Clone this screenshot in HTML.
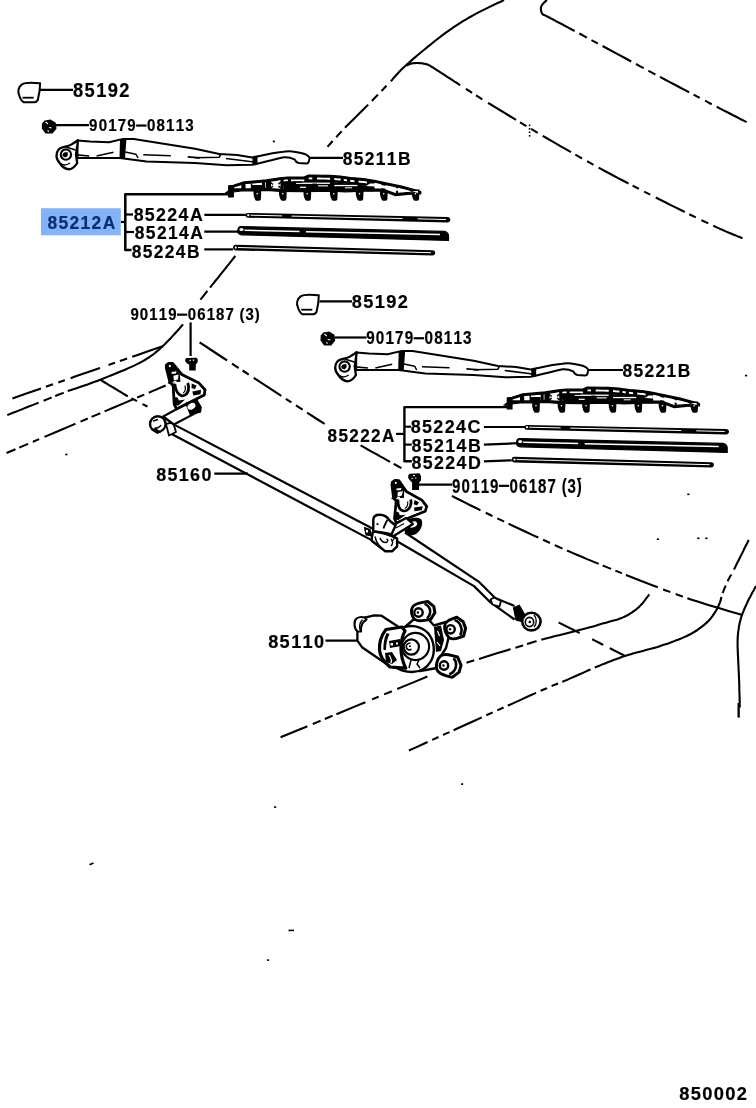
<!DOCTYPE html>
<html><head><meta charset="utf-8"><style>
html,body{margin:0;padding:0;background:#fff;}
svg{display:block;will-change:transform;}
text{font-family:"Liberation Sans",sans-serif;font-weight:bold;}
</style></head><body>
<svg width="756" height="1108" viewBox="0 0 756 1108">
<defs><clipPath id="bclip"><polygon points="228.6,185.9 233.3,185.3 244,181.9 266.3,179.9 279.8,177.9 287.5,177 304,177 308.5,175 329.6,175.4 340.2,176.1 350.8,177.5 363.5,178.6 374,180.3 401.7,186.2 413.4,189.4 420.8,191.5 420.8,193.8 410.2,194.2 395.4,195.6 385.9,192 380,191 363.5,191.2 345.5,191.8 331.7,191.2 304,191.6 281.1,191.4 266.3,190.4 254.4,190.8 241.7,190.8 233.3,192 233.3,197 228.6,197"/></clipPath><g id="set"><path d="M22,84.3 C25,82.5 30,82.2 40.1,83.3 L39.6,90.7 L37.8,100 C37,101.5 35.5,102.3 34.1,102.3 L23.9,102.3 C21.5,101 20,98 19.3,95.4 C17.5,92 18,87 22,84.3 Z" stroke="#000" stroke-width="2" fill="#fff"/><line x1="22.5" y1="97.7" x2="33.6" y2="97.7" stroke="#000" stroke-width="1.8"/><path d="M44.5,120.5 L50.5,119.6 L55.8,122.8 L56.5,128.8 L52.5,133.6 L45.5,133.4 L41.8,128.5 L42,123.5 Z" fill="#000"/><path d="M45.6,121.8 L48,124 M49,127.5 L51.7,128 M47.5,130.4 L48.9,131.5" stroke="#fff" stroke-width="1.1"/><path d="M77.5,140.6 L90,141.6 L109,142.2 L123.2,138.9 L133.8,138.9 L195,148.8 L219.3,154 L237.3,155.1 L252.1,157.4 C262,155.5 272,153.2 281.7,152.1 C285,151.3 289,151.2 292.3,151.4 C297,152 303,153 306.1,154.6 C309,156 310,158 309.3,159.3 C309,162 307.5,163.6 306.1,163.6 L298.7,163 C296,162.5 295,160.5 294.4,159.3 C291,157.5 287,157 283.9,157.2 C272,159.8 262,162.6 252.1,164.8 L226.7,165.2 L195,163 L146.5,161.6 L120,157.9 L77.5,158 Z" stroke="#000" stroke-width="2" fill="#fff" /><path d="M56.5,156 C56.5,151 59.5,148 63.2,147.2 C67,146.3 70.9,145.4 73,143.5 L78,140.3 L76,154.5 L77.2,163 C75.5,166 72,169 69,169.3 C65,169 62,166.5 60,163.5 C57.8,161 56.5,159 56.5,156 Z" stroke="#000" stroke-width="2.3" fill="#fff" /><circle cx="65.9" cy="154.6" r="5.2" stroke="#000" stroke-width="2.1" fill="none"/><path d="M64,152.5 L67.5,152 L68,155 L66,157.5 L63,156.5 L62.5,154.5 Z" fill="#000"/><path d="M66,147 L75.5,150" stroke="#000" stroke-width="1.6" fill="none" /><path d="M60,163 C63,166 67,165 70,163" stroke="#000" stroke-width="1.4" fill="none" /><path d="M120,139.2 L126.5,138.6 L125,158.6 L119.5,158.2 Z" fill="#000"/><path d="M76.5,154.9 L89.2,156" stroke="#000" stroke-width="1.6" fill="none" /><path d="M96.6,156 L113.5,152.2" stroke="#000" stroke-width="1.6" fill="none" /><path d="M125.3,152.1 L135.9,154.2 L138,158" stroke="#000" stroke-width="1.5" fill="none" /><path d="M143.3,154.8 L170.8,155.8" stroke="#000" stroke-width="1.6" fill="none" /><path d="M187.7,156.9 L200,157.9" stroke="#000" stroke-width="1.6" fill="none" /><path d="M195,157.8 L219.3,157.2 L221,153.5" stroke="#000" stroke-width="1.6" fill="none" /><path d="M226,158.5 L254,162" stroke="#000" stroke-width="1.6" fill="none" /><path d="M252.5,157 L257.5,156.2 L257.5,164 L252.5,164.6 Z" fill="#000"/><polygon points="228.6,185.9 233.3,185.3 244,181.9 266.3,179.9 279.8,177.9 287.5,177 304,177 308.5,175 329.6,175.4 340.2,176.1 350.8,177.5 363.5,178.6 374,180.3 401.7,186.2 413.4,189.4 420.8,191.5 420.8,193.8 410.2,194.2 395.4,195.6 385.9,192 380,191 363.5,191.2 345.5,191.8 331.7,191.2 304,191.6 281.1,191.4 266.3,190.4 254.4,190.8 241.7,190.8 233.3,192 233.3,197 228.6,197" fill="#000" stroke="#000" stroke-width="1.2" stroke-linejoin="round"/><path d="M228.6,190 L224,193.5 L233,194.5 Z" fill="#000"/><path d="M253.5,189.5 L261.3,189.5 L260.9,199 C260.5,200.5 259.5,200.8 258.0,200.8 L256.5,200.8 C255.0,200.5 254.0,197 253.5,194 Z" fill="#000"/><rect x="256.6" y="193" width="1.3" height="1.4" fill="#fff"/><path d="M279,189.5 L286.8,189.5 L286.4,199 C286,200.5 285,200.8 283.5,200.8 L282,200.8 C280.5,200.5 279.5,197 279,194 Z" fill="#000"/><rect x="282.1" y="193" width="1.3" height="1.4" fill="#fff"/><path d="M303.5,189.5 L311.3,189.5 L310.9,199 C310.5,200.5 309.5,200.8 308.0,200.8 L306.5,200.8 C305.0,200.5 304.0,197 303.5,194 Z" fill="#000"/><rect x="306.6" y="193" width="1.3" height="1.4" fill="#fff"/><path d="M330,189.5 L337.8,189.5 L337.4,199 C337,200.5 336,200.8 334.5,200.8 L333,200.8 C331.5,200.5 330.5,197 330,194 Z" fill="#000"/><rect x="333.1" y="193" width="1.3" height="1.4" fill="#fff"/><path d="M355.8,189.5 L363.6,189.5 L363.2,199 C362.8,200.5 361.8,200.8 360.3,200.8 L358.8,200.8 C357.3,200.5 356.3,197 355.8,194 Z" fill="#000"/><rect x="358.90000000000003" y="193" width="1.3" height="1.4" fill="#fff"/><path d="M380,189.5 L387.8,189.5 L387.4,199 C387,200.5 386,200.8 384.5,200.8 L383,200.8 C381.5,200.5 380.5,197 380,194 Z" fill="#000"/><rect x="383.1" y="193" width="1.3" height="1.4" fill="#fff"/><path d="M411.7,189.5 L419.5,189.5 L419.09999999999997,199 C418.7,200.5 417.7,200.8 416.2,200.8 L414.7,200.8 C413.2,200.5 412.2,197 411.7,194 Z" fill="#000"/><rect x="414.8" y="193" width="1.3" height="1.4" fill="#fff"/><polygon points="234.0,187.5 236.0,186.8 238.0,186.2 240.0,185.6 242.0,184.9 244.0,184.3 246.0,184.1 248.0,183.9 250.0,183.8 252.0,183.6 254.0,183.4 256.0,183.2 258.0,183.0 260.0,182.9 262.0,182.7 264.0,182.5 266.0,182.3 268.0,182.0 270.0,181.8 272.0,181.5 274.0,181.2 276.0,180.9 278.0,180.6 280.0,180.3 282.0,180.0 284.0,179.8 286.0,179.6 288.0,179.4 290.0,179.4 292.0,179.4 294.0,179.4 296.0,179.4 298.0,179.4 300.0,179.4 302.0,179.4 304.0,179.4 306.0,178.5 308.0,177.6 310.0,177.4 312.0,177.5 314.0,177.5 316.0,177.5 318.0,177.6 320.0,177.6 322.0,177.7 324.0,177.7 326.0,177.7 328.0,177.8 330.0,177.8 332.0,178.0 334.0,178.1 336.0,178.2 338.0,178.4 340.0,178.5 342.0,178.7 344.0,179.0 346.0,179.3 348.0,179.5 350.0,179.8 352.0,180.0 354.0,180.2 356.0,180.4 358.0,180.5 360.0,180.7 362.0,180.9 364.0,181.1 366.0,181.4 368.0,181.7 370.0,182.1 372.0,182.4 374.0,182.7 376.0,183.1 378.0,183.6 380.0,184.0 382.0,184.4 384.0,184.8 386.0,185.3 388.0,185.7 390.0,186.1 392.0,186.5 394.0,187.0 396.0,187.4 398.0,187.8 400.0,188.2 402.0,188.7 404.0,189.2 406.0,189.8 408.0,190.3 410.0,190.9 412.0,191.4 414.0,192.0 416.0,192.5 418.0,193.1 418.0,190.9 416.0,191.1 414.0,191.2 412.0,191.4 410.0,191.6 408.0,191.8 406.0,192.0 404.0,192.2 402.0,192.4 400.0,192.6 398.0,192.8 396.0,192.9 394.0,192.5 392.0,191.7 390.0,191.0 388.0,190.2 386.0,189.4 384.0,189.1 382.0,188.7 380.0,188.4 378.0,188.4 376.0,188.4 374.0,188.5 372.0,188.5 370.0,188.5 368.0,188.5 366.0,188.6 364.0,188.6 362.0,188.7 360.0,188.7 358.0,188.8 356.0,188.8 354.0,188.9 352.0,189.0 350.0,189.1 348.0,189.1 346.0,189.2 344.0,189.1 342.0,189.0 340.0,189.0 338.0,188.9 336.0,188.8 334.0,188.7 332.0,188.6 330.0,188.6 328.0,188.7 326.0,188.7 324.0,188.7 322.0,188.7 320.0,188.8 318.0,188.8 316.0,188.8 314.0,188.9 312.0,188.9 310.0,188.9 308.0,188.9 306.0,189.0 304.0,189.0 302.0,189.0 300.0,189.0 298.0,188.9 296.0,188.9 294.0,188.9 292.0,188.9 290.0,188.9 288.0,188.9 286.0,188.8 284.0,188.8 282.0,188.8 280.0,188.7 278.0,188.6 276.0,188.5 274.0,188.3 272.0,188.2 270.0,188.1 268.0,187.9 266.0,187.8 264.0,187.9 262.0,187.9 260.0,188.0 258.0,188.1 256.0,188.1 254.0,188.2 252.0,188.2 250.0,188.2 248.0,188.2 246.0,188.2 244.0,188.2 242.0,188.2 240.0,188.2 238.0,188.2 236.0,188.2 234.0,188.2" fill="#fff"/><path d="M283.0,183.1 L286.0,182.8 L289.0,182.6 L292.0,182.6 L295.0,182.6 L298.0,182.6 L301.0,182.6 L304.0,182.6 L307.0,181.3 L310.0,180.6 L313.0,180.7 L316.0,180.7 L319.0,180.8 L322.0,180.9 L325.0,180.9 L328.0,181.0 L331.0,181.1 L334.0,181.3 L337.0,181.5 L340.0,181.7 L343.0,182.1 L346.0,182.5 L349.0,182.9 L352.0,183.2 L355.0,183.5 L358.0,183.7 L361.0,184.0 L364.0,184.3 L367.0,184.8 L370.0,185.3" stroke="#000" stroke-width="2.6" fill="none"/><rect x="241.3" y="170" width="4.199999999999989" height="25" fill="#000" clip-path="url(#bclip)"/><rect x="250.8" y="170" width="1.3999999999999773" height="25" fill="#000" clip-path="url(#bclip)"/><rect x="262" y="170" width="3" height="25" fill="#000" clip-path="url(#bclip)"/><rect x="265.7" y="170" width="5.300000000000011" height="25" fill="#000" clip-path="url(#bclip)"/><rect x="280.5" y="170" width="3.1000000000000227" height="25" fill="#000" clip-path="url(#bclip)"/><rect x="287.9" y="170" width="3.1000000000000227" height="25" fill="#000" clip-path="url(#bclip)"/><rect x="304.3" y="170" width="4.5" height="25" fill="#000" clip-path="url(#bclip)"/><rect x="312.3" y="170" width="4.699999999999989" height="25" fill="#000" clip-path="url(#bclip)"/><rect x="330.1" y="170" width="4.199999999999989" height="25" fill="#000" clip-path="url(#bclip)"/><rect x="340.7" y="170" width="3.1000000000000227" height="25" fill="#000" clip-path="url(#bclip)"/><rect x="347" y="170" width="3.1999999999999886" height="25" fill="#000" clip-path="url(#bclip)"/><rect x="354.4" y="170" width="4.100000000000023" height="25" fill="#000" clip-path="url(#bclip)"/><rect x="367" y="170" width="7.5" height="25" fill="#000" clip-path="url(#bclip)"/><rect x="381.5" y="170" width="4.0" height="25" fill="#000" clip-path="url(#bclip)"/><rect x="396" y="170" width="2" height="25" fill="#000" clip-path="url(#bclip)"/><rect x="410" y="170" width="2" height="25" fill="#000" clip-path="url(#bclip)"/><polygon points="283.0,184.0 286.0,183.7 289.0,183.5 292.0,183.5 295.0,183.5 298.0,183.5 301.0,183.5 304.0,183.5 307.0,182.2 310.0,181.5 313.0,181.6 316.0,181.6 319.0,181.7 322.0,181.8 325.0,181.8 328.0,181.9 331.0,182.0 334.0,182.2 337.0,182.4 340.0,182.6 343.0,183.0 346.0,183.4 349.0,183.8 352.0,184.1 355.0,184.4 358.0,184.6 361.0,184.9 364.0,185.2 367.0,185.7 370.0,186.2 373.0,186.6 374.0,190.1 371.0,190.1 368.0,190.1 365.0,190.2 362.0,190.2 359.0,190.3 356.0,190.4 353.0,190.6 350.0,190.7 347.0,190.8 344.0,190.7 341.0,190.6 338.0,190.5 335.0,190.3 332.0,190.2 329.0,190.2 326.0,190.3 323.0,190.3 320.0,190.4 317.0,190.4 314.0,190.5 311.0,190.5 308.0,190.5 305.0,190.6 302.0,190.6 299.0,190.6 296.0,190.5 293.0,190.5 290.0,190.5 287.0,190.5 284.0,190.4" fill="#000"/><rect x="296" y="182.6" width="34" height="1.3" fill="#fff"/><rect x="334.3" y="184.9" width="23.19999999999999" height="1.3" fill="#fff"/><rect x="300" y="186.7" width="6" height="1.2" fill="#fff"/><rect x="318" y="185.3" width="10" height="1.1" fill="#fff"/><rect x="345" y="187.3" width="7" height="1.0" fill="#fff"/><rect x="252" y="185.0" width="10" height="4" fill="#000"/><rect x="282" y="181.4" width="9" height="4" fill="#000"/><rect x="312.3" y="183.6" width="4.5" height="3" fill="#000"/><rect x="293" y="181.6" width="9" height="1.2" fill="#000"/><path d="M270.5,182.5 L273,184.5 M281,182 L278.5,184.2 M270.8,188 L273,186 M280.8,188 L278.5,186" stroke="#000" stroke-width="1.6"/><polygon points="374.2,183.4 401.7,189.2 413.4,192.2 401.7,191.4 374.2,186.8" fill="#fff"/><polygon points="370,183.6 374.2,183.4 374.2,186.4 366,186" fill="#fff"/><path d="M248,212.9 L447.5,217.1 C449.5,217.2 450.3,218.6 450.3,219.8 C450.3,221.2 449.3,222.4 447.5,222.4 L248,217.7 C246.2,217.6 245.5,216.4 245.5,215.3 C245.5,214 246.3,212.9 248,212.9 Z" fill="#000"/><path d="M250.5,215.2 L282,215.9 M291.5,216.1 L402.5,218.5 M417.5,218.8 L446,219.5" stroke="#fff" stroke-width="1.0" fill="none" /><circle cx="248.3" cy="215.2" r="1.1" fill="#fff"/><path d="M241,226.6 L444,231.4 C447,231.5 448.5,234 448.5,236 L448.5,240.4 L242,234.8 C239,234.6 237.5,233 237.8,230.5 C238,228 239,226.6 241,226.6 Z" fill="#000" stroke="#000" stroke-width="1.2"/><path d="M244.5,230.2 L299.5,231.5 M306,231.8 L440,234.6" stroke="#fff" stroke-width="1.5" fill="none" /><ellipse cx="241.5" cy="229.6" rx="2" ry="1.5" fill="#fff"/><path d="M235.5,244.8 L432.5,250.2 C434.3,250.3 435.2,251.5 435.2,252.7 C435.2,254.2 434.2,255.4 432.5,255.4 L235.5,250.4 C233.7,250.3 233,249 233,247.6 C233,246 234,244.8 235.5,244.8 Z" fill="#000"/><path d="M238,247.5 L431,252.7" stroke="#fff" stroke-width="1.0" fill="none" /><circle cx="235.8" cy="247.6" r="1.1" fill="#fff"/></g></defs>
<rect width="756" height="1108" fill="#fff"/>
<g stroke-linecap="butt" stroke-linejoin="round">
<path d="M504.0,0.0 L502.5,0.7 L500.6,1.7 L498.3,2.7 L495.8,3.9 L493.0,5.2 L490.1,6.6 L487.1,8.1 L484.1,9.6 L481.0,11.1 L478.1,12.6 L475.2,14.1 L472.6,15.6 L470.1,17.0 L467.7,18.4 L465.3,19.8 L463.0,21.2 L460.7,22.6 L458.4,24.1 L456.1,25.6 L453.7,27.2 L451.3,28.8 L448.8,30.6 L446.2,32.4 L443.5,34.4 L440.6,36.6 L437.5,39.0 L434.3,41.5 L431.0,44.2 L427.6,46.9 L424.2,49.7 L420.8,52.5 L417.5,55.3 L414.4,57.9 L411.5,60.4 L408.9,62.7 L406.5,64.8 L404.4,66.7 L402.5,68.5 L400.7,70.3 L399.1,71.9 L397.7,73.5 L396.3,75.0 L395.2,76.3 L394.1,77.5 L393.1,78.7 L392.3,79.7 L391.5,80.5 L390.8,81.3" stroke="#000" stroke-width="2.1" fill="none" stroke-linejoin="round"/>
<path d="M386.5,85.7 L385.0,87.3 L383.0,89.4 L381.5,90.9 M377.9,94.6 L376.6,96.0 L374.4,98.2 L372.3,100.5 L371.8,100.9 M368.2,104.6 L366.3,106.6 L364.3,108.5 L362.3,110.5 L360.3,112.5 L358.3,114.5 L356.3,116.5 L354.3,118.4 L352.3,120.4 L350.4,122.3 L348.5,124.2 L346.7,126.0 L345.0,127.8 M341.7,131.3 L341.6,131.4 L339.8,133.3 L338.1,135.1 L336.4,137.0 L336.2,137.2 M332.7,141.1 L331.8,142.0 L330.5,143.5 L329.3,144.8 L328.3,145.9 L327.5,146.8" stroke="#000" stroke-width="2.1" fill="none" stroke-linecap="butt"/>
<path d="M235.3,256.0 L232.4,259.6 L229.5,263.3 L226.6,266.9 L223.7,270.6 L220.8,274.2 L217.9,277.9 L214.9,281.5 L212.0,285.1 L210.1,287.6 M207.4,290.9 L206.2,292.4 L203.3,296.1 L200.4,299.7" stroke="#000" stroke-width="2.1" fill="none" stroke-linecap="butt"/>
<path d="M183.1,324.4 L182.1,325.5 L180.9,326.8 L179.5,328.5 L177.9,330.3 L176.1,332.2 L174.3,334.3 L172.3,336.4 L170.4,338.6 L168.4,340.6 L166.4,342.6 L164.5,344.5 L162.7,346.2 L161.0,347.7 L159.4,349.2 L157.8,350.6 L156.2,351.9 L154.7,353.2 L153.1,354.5 L151.4,355.7 L149.6,357.0 L147.7,358.2 L145.6,359.5 L143.4,360.8 L140.9,362.2 L138.1,363.6 L135.1,365.1 L131.9,366.6 L128.4,368.1 L124.9,369.7 L121.2,371.2 L117.5,372.8 L113.9,374.3 L110.2,375.7 L106.7,377.1 L103.4,378.5 L100.2,379.7 L97.1,380.9 L93.9,382.1 L90.7,383.2 L87.6,384.4 L84.4,385.5 L81.4,386.5 L78.5,387.5 L75.8,388.4 L73.3,389.2 L71.1,389.9 L69.2,390.6 L67.7,391.1" stroke="#000" stroke-width="2.1" fill="none" stroke-linejoin="round"/>
<path d="M63.7,392.7 L62.7,393.1 L57.6,395.1 L55.2,396.1 M51.6,397.5 L47.6,399.1 L43.6,400.7 M38.6,402.7 L37.5,403.1 L32.5,405.1 L27.4,407.1 L22.4,409.1 L17.4,411.1 L12.3,413.1 L7.3,415.1" stroke="#000" stroke-width="2.1" fill="none" stroke-linecap="butt"/>
<path d="M406.5,65.5 L406.8,65.4 L407.1,65.3 L407.4,65.1 L407.9,64.9 L408.3,64.7 L408.8,64.5 L409.3,64.3 L409.8,64.0 L410.4,63.8 L410.9,63.7 L411.5,63.5 L412.0,63.4 L412.6,63.3 L413.1,63.2 L413.8,63.2 L414.4,63.1 L415.0,63.1 L415.7,63.0 L416.3,63.0 L417.0,63.0 L417.6,63.0 L418.3,63.0 L418.9,63.1 L419.5,63.1 L420.1,63.1 L420.6,63.2 L421.2,63.2 L421.8,63.3 L422.3,63.4 L422.8,63.5 L423.4,63.6 L423.9,63.7 L424.4,63.8 L425.0,63.9 L425.5,64.0 L426.0,64.2 L426.4,64.3 L426.8,64.4 L427.0,64.4 L427.2,64.4 L427.4,64.5 L427.6,64.5 L428.0,64.7 L428.4,64.9 L429.0,65.2 L429.7,65.6 L430.7,66.2 L432.0,67.0 L433.7,68.0 L435.7,69.4 L438.1,70.9 L440.8,72.6 L443.6,74.4 L446.5,76.3 L449.3,78.1 L452.1,79.9 L454.6,81.6 L456.9,83.0 L458.8,84.3 L460.2,85.2" stroke="#000" stroke-width="2.1" fill="none" stroke-linejoin="round"/>
<path d="M465.8,88.8 L466.4,89.2 L468.5,90.5 L470.7,91.9 L472.1,92.8 M476.0,95.3 L478.5,96.9 L481.5,98.8 L482.3,99.3 M488.0,102.8 L491.6,105.0 L495.5,107.4 L499.8,110.0 L504.2,112.7 L508.8,115.5 L513.6,118.4 L516.0,119.9 M520.1,122.3 L523.4,124.3 L526.4,126.1 M531.1,128.9 L533.2,130.2 L537.7,132.9 M542.7,135.8 L547.3,138.5 L551.9,141.2 L556.6,143.9 L561.2,146.6 L565.8,149.2 L570.5,151.9 L571.0,152.2 M575.3,154.6 L579.8,157.2 L582.1,158.4 M587.1,161.3 L589.2,162.4 L593.5,164.8 M598.6,167.6 L603.3,170.2 L608.1,172.7 L612.8,175.2 L617.6,177.8 L622.3,180.3 L627.1,182.8 L628.5,183.5 M632.6,185.6 L636.7,187.7 L638.9,188.9 M644.2,191.6 L646.2,192.6 L650.2,194.6 M655.8,197.5 L660.7,200.0 L665.7,202.5 L670.8,205.1 L676.0,207.6 L681.2,210.2 L684.8,212.0 M689.2,214.2 L691.3,215.2 L695.8,217.4 M701.3,220.1 L705.4,222.0 L708.3,223.4 M713.3,225.8 L716.8,227.4 L720.1,228.9 L723.3,230.3 L726.2,231.6 L729.0,232.8 L731.5,233.8 L733.8,234.8 L736.0,235.6 L737.9,236.4 L739.7,237.1 L741.2,237.7 L742.5,238.3" stroke="#000" stroke-width="2.1" fill="none" stroke-linecap="butt"/>
<rect x="528.8" y="124.5" width="1.6" height="1.6" fill="#000"/>
<rect x="528.8" y="128" width="1.6" height="1.6" fill="#000"/>
<rect x="528.8" y="131.5" width="1.6" height="1.6" fill="#000"/>
<rect x="528.8" y="135" width="1.6" height="1.6" fill="#000"/>
<path d="M546.9,0.0 L546.6,0.3 L546.2,0.7 L545.7,1.1 L545.2,1.6 L544.6,2.1 L544.0,2.7 L543.5,3.3 L542.9,3.9 L542.4,4.5 L541.9,5.1 L541.6,5.7 L541.3,6.3 L541.1,6.9 L541.0,7.5 L540.9,8.1 L540.9,8.8 L540.9,9.4 L541.0,10.1 L541.1,10.7 L541.2,11.4 L541.4,12.0 L541.6,12.5 L541.8,13.0 L542.1,13.5 L542.3,13.9 L542.5,14.1 L542.7,14.3 L542.8,14.5 L543.0,14.6 L543.3,14.7 L543.6,14.8 L544.1,15.0 L544.7,15.2 L545.5,15.6 L546.5,16.1 L547.7,16.7 L549.3,17.5 L551.3,18.6 L553.6,19.8 L556.1,21.2 L558.8,22.6 L561.6,24.0 L564.3,25.5 L566.9,26.9 L569.3,28.2 L571.5,29.3 L573.3,30.3 L574.7,31.0" stroke="#000" stroke-width="2.1" fill="none" stroke-linejoin="round"/>
<path d="M579.3,33.5 L580.8,34.3 L582.8,35.4 L585.0,36.6 L586.9,37.6 M591.5,40.1 L592.8,40.8 L595.8,42.4 L597.8,43.5 M602.5,46.0 L606.3,48.0 L610.4,50.2 L614.8,52.6 L619.5,55.2 L624.4,57.8 L629.4,60.5 L631.2,61.5 M636.0,64.0 L639.8,66.1 L643.7,68.2 M648.4,70.7 L650.1,71.6 L655.1,74.3 L655.4,74.4 M660.0,76.9 L664.8,79.5 L669.8,82.1 L674.9,84.8 L680.0,87.5 L685.0,90.2 L689.1,92.3 M693.6,94.7 L695.0,95.4 L699.7,97.9 M705.1,100.7 L708.8,102.7 L711.8,104.2 M716.7,106.8 L720.2,108.6 L723.6,110.4 L726.8,112.0 L729.8,113.5 L732.6,115.0 L735.2,116.3 L737.6,117.5 L739.8,118.7 L741.9,119.7 L743.7,120.6 L745.2,121.4 L746.6,122.1" stroke="#000" stroke-width="2.1" fill="none" stroke-linecap="butt"/>
<path d="M12.4,398.4 L24.9,394.0 L37.4,389.7 L41.0,388.5 M45.9,386.8 L50.0,385.3 L53.1,384.3 M58.3,382.5 L62.5,381.0 L64.8,380.2 M70.6,378.2 L75.0,376.6 L87.5,372.3 L100.0,368.0 M108.5,365.0 L112.6,363.6 L115.0,362.8 M119.9,361.0 L125.1,359.2 L127.1,358.5 M132.2,356.8 L137.6,354.9 L150.2,350.6 L162.7,346.2" stroke="#000" stroke-width="2.1" fill="none" stroke-linecap="butt"/>
<path d="M6.5,453.0 L15.5,449.2 M19.2,447.6 L19.8,447.4 L28.1,443.9 M32.8,441.8 L33.0,441.8 L39.2,439.1 M44.5,436.9 L46.3,436.1 L59.6,430.5 L72.8,424.9 L75.4,423.8 M80.5,421.6 L86.1,419.2 L87.8,418.5 M91.6,416.9 L99.4,413.6 L100.3,413.2 M104.6,411.4 L112.6,408.0 L125.9,402.4 L132.6,399.5 M137.1,397.6 L139.2,396.8 L144.3,394.6 M148.8,392.7 L152.4,391.1 L165.7,385.5" stroke="#000" stroke-width="2.1" fill="none" stroke-linecap="butt"/>
<path d="M100.2,379.7 L102.5,381.1 L104.8,382.5 L107.1,383.9 L109.4,385.3 L111.7,386.7 L114.0,388.0 L116.3,389.4 L118.6,390.8 L120.9,392.2 L123.2,393.6 L125.5,395.0 L127.8,396.4" stroke="#000" stroke-width="2.1" fill="none" stroke-linejoin="round"/>
<path d="M131.5,398.3 L132.7,398.9 L134.4,399.8 L136.0,400.6 L137.0,401.2 M142.5,404.0 L142.6,404.1 L144.2,404.9 L145.9,405.8 L147.5,406.6" stroke="#000" stroke-width="2.1" fill="none" stroke-linecap="butt"/>
<path d="M199.6,342.4 L205.9,346.5 L214.2,352.0 L224.1,358.5 L227.1,360.4 M232.0,363.6 L235.3,365.8 L238.7,368.0 M242.6,370.5 L247.3,373.6 L248.8,374.6 M253.7,377.8 L259.9,381.8 L272.5,390.1 L281.3,395.8 M285.8,398.8 L291.4,402.4 M295.9,405.4 L296.7,405.8 L302.6,409.7 M307.1,412.6 L307.5,412.9 L316.9,419.0 L324.6,423.9 M360.6,445.3 L363.8,447.1 L367.0,449.0 L370.2,450.8 L373.5,452.6 L376.8,454.4 L380.1,456.3 L383.5,458.2 L386.9,460.1 L390.0,461.8 M393.7,463.8 L394.0,464.0 L397.6,466.0 L401.4,468.1 M451.9,495.9 L456.4,498.2 L461.0,500.5 L465.6,502.9 L470.2,505.2 L475.0,507.5 L479.7,509.9 L480.5,510.2 M485.7,512.8 L489.3,514.5 L492.5,516.1 M497.3,518.4 L498.9,519.1 L503.7,521.4 L504.1,521.6 M508.5,523.7 L513.3,526.0 L518.1,528.3 L523.0,530.5 L527.8,532.8 L532.7,535.1 L537.6,537.3 L538.3,537.6 M543.1,539.8 L547.4,541.8 L550.0,543.0 M554.8,545.1 L557.2,546.2 L562.1,548.4 L562.5,548.5 M567.0,550.5 L571.9,552.6 L576.8,554.7 L581.7,556.8 L586.5,558.9 L591.4,560.9 L596.3,562.9 L598.7,563.9 M602.7,565.5 L606.1,566.9 L611.1,568.9 M615.4,570.7 L616.0,570.9 L621.0,572.9 L621.9,573.3 M626.0,574.9 L631.1,576.9 L636.2,578.9 L641.3,581.0 L646.5,583.0 L651.7,585.0 L657.0,587.0 L657.8,587.3 M663.1,589.4 L667.3,590.9 L670.3,592.1 M675.7,594.0 L677.5,594.7 L682.5,596.5 L682.9,596.6 M687.4,598.2 L692.4,599.9 L697.6,601.6 L702.9,603.3 L708.2,604.9 L713.6,606.6 L718.7,608.1 L723.7,609.6 L728.4,611.0 L732.7,612.2 L736.5,613.3 L739.8,614.3 L742.4,615.1" stroke="#000" stroke-width="2.1" fill="none" stroke-linecap="butt"/>
<path d="M748.7,540.0 L748.0,541.5 L747.0,543.4 L745.8,545.7 L744.5,548.3 L743.2,551.1 L741.7,554.1 L740.2,557.0 L738.8,560.0 L737.3,562.8 L736.0,565.4 L734.9,567.7 L733.9,569.6 M731.2,574.6 L731.2,574.7 L730.7,575.5 L730.2,576.3 L729.8,577.0 L729.4,577.8 L729.0,578.5 L728.6,579.3 L728.1,580.2 L727.6,581.3 M725.7,585.6 L725.2,586.8 L724.5,588.4 L723.9,589.9 L723.3,591.4 L722.7,592.8 L722.6,593.0" stroke="#000" stroke-width="2.1" fill="none" stroke-linecap="butt"/>
<path d="M721.5,597.0 L721.4,597.3 L721.3,597.6 L721.2,598.1 L721.1,598.5 L721.0,599.0 L720.8,599.5 L720.7,600.1 L720.5,600.7 L720.3,601.3 L720.1,601.9 L719.9,602.6 L719.6,603.2 L719.3,603.8 L719.1,604.5 L718.8,605.2 L718.5,605.9 L718.2,606.6 L717.8,607.3 L717.5,608.1 L717.1,608.8 L716.7,609.6 L716.2,610.4 L715.7,611.2 L715.2,612.0 L714.6,612.8 L714.1,613.7 L713.5,614.5 L712.9,615.4 L712.3,616.3 L711.6,617.2 L710.9,618.2 L710.1,619.1 L709.3,620.0 L708.4,621.0 L707.5,621.9 L706.4,622.9 L705.3,623.9 L704.1,624.9 L702.9,625.9 L701.6,626.9 L700.2,627.9 L698.8,628.9 L697.4,630.0 L695.8,631.0 L694.2,632.0 L692.5,633.0 L690.7,634.0 L688.8,635.0 L686.8,636.0 L684.8,636.9 L682.6,637.9 L680.4,638.8 L678.0,639.7 L675.6,640.6 L673.2,641.6 L670.7,642.5 L668.2,643.4 L665.6,644.2 L662.9,645.1 L660.3,646.0 L657.6,646.9 L654.8,647.7 L651.9,648.5 L648.9,649.3 L645.9,650.1 L642.8,650.9 L639.8,651.7 L636.7,652.5 L633.7,653.3 L630.8,654.2 L627.9,655.0 L625.1,655.9 L622.3,656.8 L619.4,657.9 L616.5,659.0 L613.5,660.1 L610.6,661.2 L607.8,662.3 L605.0,663.4 L602.5,664.4 L600.1,665.4 L598.0,666.2 L596.2,666.9 L594.8,667.5" stroke="#000" stroke-width="2.1" fill="none" stroke-linejoin="round"/>
<path d="M590.6,669.4 L589.7,669.8 L587.4,670.8 L585.0,671.9 L582.4,673.1 L579.7,674.3 L576.9,675.5 L574.1,676.7 L571.4,677.9 L568.7,679.1 L566.2,680.2 L564.0,681.1 L562.4,681.8 L562.3,681.8 M558.1,683.4 L557.3,683.7 L555.5,684.4 L553.3,685.3 L551.6,686.1 M547.0,688.0 L546.7,688.2 L541.9,690.3 L540.6,690.9 M536.0,692.9 L528.4,696.3 L519.0,700.6 L508.1,705.5 L507.7,705.6 M503.6,707.5 L497.3,710.4 M492.7,712.4 L486.3,715.3 M481.8,717.4 L470.6,722.5 L457.8,728.3 L453.6,730.2 M449.5,732.1 L445.4,733.9 L443.1,735.0 M438.5,737.0 L434.0,739.1 L432.2,739.9 M427.6,742.0 L423.8,743.7 L415.4,747.6 L408.9,750.5" stroke="#000" stroke-width="2.1" fill="none" stroke-linecap="butt"/>
<path d="M649.3,594.4 L648.8,595.0 L648.2,595.9 L647.4,596.9 L646.6,597.9 L645.7,599.1 L644.8,600.4 L643.8,601.7 L642.7,603.0 L641.6,604.2 L640.5,605.4 L639.4,606.6 L638.3,607.6 L637.2,608.5 L636.1,609.5 L634.9,610.4 L633.7,611.2 L632.5,612.1 L631.3,612.9 L630.0,613.7 L628.7,614.5 L627.3,615.3 L625.9,616.0 L624.4,616.7 L622.9,617.4 L621.3,618.1 L619.5,618.7 L617.6,619.4 L615.7,620.0 L613.7,620.5 L611.7,621.1 L609.7,621.6 L607.7,622.2 L605.9,622.7 L604.1,623.1 L602.5,623.6 L601.0,624.0 L599.8,624.4 L599.0,624.6 L598.4,624.8 L597.9,625.0 L597.6,625.1 L597.2,625.3 L596.7,625.4 L596.1,625.6 L595.1,625.9 L593.9,626.3 L592.2,626.7 L590.0,627.3 L587.1,628.1 L583.5,629.0 L579.3,630.1 L574.8,631.2 L569.9,632.4 L565.0,633.7 L560.0,635.0 L555.3,636.1 L550.9,637.3 L547.0,638.2 L543.8,639.1 L541.3,639.7" stroke="#000" stroke-width="2.1" fill="none" stroke-linejoin="round"/>
<path d="M536.6,641.2 L535.1,641.6 L528.8,643.5 L527.0,644.1 M523.1,645.3 L522.6,645.5 L516.4,647.4 L515.4,647.7 M510.6,649.2 L510.1,649.3 L503.9,651.2 L497.7,653.1 L491.4,655.0 L485.2,657.0 L479.0,658.9 M474.2,660.3 L472.7,660.8 L466.5,662.7" stroke="#000" stroke-width="2.1" fill="none" stroke-linecap="butt"/>
<path d="M427.4,676.5 L415.2,681.6 L402.9,686.6 L397.2,689.0 M391.8,691.2 L390.7,691.7 L384.1,694.4 M378.7,696.7 L378.5,696.8 L372.1,699.4 M365.4,702.2 L354.0,706.9 L341.8,712.0 L336.4,714.2 M332.6,715.8 L329.5,717.0 L324.8,719.0 M320.6,720.7 L317.3,722.1 L312.8,724.0 M307.3,726.2 L305.1,727.2 L292.8,732.2 L280.6,737.3" stroke="#000" stroke-width="2.1" fill="none" stroke-linecap="butt"/>
<path d="M558.6,622.5 L560.4,623.4 L562.1,624.2 L563.9,625.1 L565.6,626.0 L567.4,626.9 L569.2,627.8 L570.9,628.6 L572.7,629.5 L574.4,630.4 L576.2,631.2 L577.9,632.1 L579.7,633.0" stroke="#000" stroke-width="2.1" fill="none" stroke-linejoin="round"/>
<path d="M592.2,639.3 L594.8,640.6 L598.6,642.5 L602.4,644.5 L603.2,644.9 M609.8,648.2 L610.0,648.3 L613.8,650.2 L617.5,652.1 L621.3,654.0 L625.1,655.9" stroke="#000" stroke-width="2.1" fill="none" stroke-linecap="butt"/>
<path d="M756.0,586.0 L755.6,586.7 L755.1,587.6 L754.5,588.7 L753.9,589.9 L753.2,591.2 L752.4,592.5 L751.6,594.0 L750.9,595.4 L750.1,596.9 L749.3,598.3 L748.6,599.7 L748.0,601.0 L747.4,602.3 L746.8,603.6 L746.2,604.9 L745.6,606.2 L745.0,607.5 L744.4,608.8 L743.9,610.1 L743.4,611.4 L742.8,612.7 L742.4,613.9 L741.9,615.2 L741.5,616.4 L741.1,617.6 L740.8,618.8 L740.5,619.9 L740.2,621.0 L739.9,622.1 L739.6,623.2 L739.4,624.3 L739.2,625.4 L739.0,626.6 L738.8,627.7 L738.7,628.8 L738.5,630.0 L738.3,631.1 L738.2,632.2 L738.1,633.2 L738.0,634.2 L737.9,635.2 L737.8,636.2 L737.7,637.3 L737.7,638.6 L737.6,639.9 L737.6,641.4 L737.6,643.0 L737.6,644.9 L737.6,647.0 L737.7,649.4 L737.8,651.9 L737.9,654.7 L738.1,657.5 L738.2,660.4 L738.3,663.4 L738.5,666.4 L738.6,669.4 L738.8,672.3 L738.9,675.1 L739.0,677.8 L739.1,680.5 L739.2,683.3 L739.3,686.1 L739.3,689.0 L739.4,691.9 L739.5,694.7 L739.6,697.4 L739.6,699.9 L739.7,702.2 L739.7,704.3 L739.8,706.1 L739.8,707.5" stroke="#000" stroke-width="2.1" fill="none" stroke-linejoin="round"/>
<rect x="737.5" y="703" width="2.3" height="14.6" fill="#000"/>
<rect x="461" y="783.3" width="2.2" height="1.6" fill="#000"/>
<rect x="274" y="806.3" width="2.2" height="1.6" fill="#000"/>
<rect x="267" y="959.3" width="2.2" height="1.6" fill="#000"/>
<rect x="272.8" y="140.60000000000002" width="2.2" height="1.6" fill="#000"/>
<rect x="745" y="374.8" width="2.2" height="1.6" fill="#000"/>
<rect x="579" y="477.8" width="2.2" height="1.6" fill="#000"/>
<rect x="687.3" y="493.5" width="2.2" height="1.6" fill="#000"/>
<rect x="656.8" y="538.4" width="2.2" height="1.6" fill="#000"/>
<rect x="697.2" y="537.5" width="2.2" height="1.6" fill="#000"/>
<rect x="705.3" y="537.5" width="2.2" height="1.6" fill="#000"/>
<rect x="65.2" y="453.7" width="2.2" height="1.6" fill="#000"/>
<path d="M89.5,864.8 L93.5,863" stroke="#000" stroke-width="1.6" fill="none" />
<rect x="288.5" y="929.6" width="5.5" height="1.6" fill="#000"/>
<line x1="40" y1="89.8" x2="73" y2="89.8" stroke="#000" stroke-width="2.2"/>
<line x1="56" y1="125.2" x2="89" y2="125.2" stroke="#000" stroke-width="2.2"/>
<line x1="319.5" y1="301.3" x2="352" y2="301.3" stroke="#000" stroke-width="2.2"/>
<line x1="335" y1="337.5" x2="366.5" y2="337.5" stroke="#000" stroke-width="2.2"/>
<line x1="308.7" y1="157.8" x2="343" y2="157.8" stroke="#000" stroke-width="2.2"/>
<line x1="588.6" y1="370" x2="623" y2="370" stroke="#000" stroke-width="2.2"/>
<line x1="214.3" y1="473.7" x2="248" y2="473.7" stroke="#000" stroke-width="2.2"/>
<line x1="325.5" y1="640.7" x2="357.5" y2="640.7" stroke="#000" stroke-width="2.2"/>
<line x1="190.6" y1="322.4" x2="190.6" y2="356" stroke="#000" stroke-width="2.2"/>
<line x1="417.8" y1="484.6" x2="452" y2="484.6" stroke="#000" stroke-width="2.2"/>
<path d="M230.8,194.3 L125.3,194.3 L125.3,250 L131.5,250" stroke="#000" stroke-width="2.5" fill="none" />
<line x1="120.8" y1="222" x2="125.3" y2="222" stroke="#000" stroke-width="2.2"/>
<line x1="125.3" y1="214.5" x2="133" y2="214.5" stroke="#000" stroke-width="2.2"/>
<line x1="125.3" y1="232" x2="134" y2="232" stroke="#000" stroke-width="2.2"/>
<line x1="204.3" y1="214.8" x2="246.6" y2="214.8" stroke="#000" stroke-width="2.2"/>
<line x1="204.3" y1="231.7" x2="238" y2="231.7" stroke="#000" stroke-width="2.2"/>
<line x1="204.3" y1="249.4" x2="233" y2="249.4" stroke="#000" stroke-width="2.2"/>
<path d="M508,407.1 L404.4,407.1 L404.4,461.3 L411.8,461.3" stroke="#000" stroke-width="2.4" fill="none" />
<line x1="396.1" y1="433.9" x2="404.4" y2="433.9" stroke="#000" stroke-width="2.2"/>
<line x1="404.4" y1="426.7" x2="411.2" y2="426.7" stroke="#000" stroke-width="2.2"/>
<line x1="404.4" y1="444.6" x2="411.8" y2="444.6" stroke="#000" stroke-width="2.2"/>
<line x1="483.9" y1="427" x2="526.5" y2="427" stroke="#000" stroke-width="2.2"/>
<line x1="483.9" y1="444.6" x2="518" y2="443.2" stroke="#000" stroke-width="2.2"/>
<line x1="483.9" y1="461.3" x2="511.7" y2="460.3" stroke="#000" stroke-width="2.2"/>
<use href="#set"/>
<use href="#set" transform="translate(278.7,212)"/>
<path d="M175.1,425.1 L373.9,529.3 M169.8,433 L372,540.4" stroke="#000" stroke-width="2.2" fill="none" /><path d="M165.9,423.8 L173.1,422.5 L176,432 L169,435.5 Z" fill="#fff" stroke="#000" stroke-width="1.8"/><path d="M163.2,416.5 L188.4,402.6 L200.3,410.6 L173.8,424.5 Z" fill="#fff" stroke="#000" stroke-width="2.2"/><path d="M184.4,402 L196,399.5 L201.6,407 L201,412.5 L190,415 Z" fill="#000"/><ellipse cx="191.6" cy="406" rx="4.3" ry="2.9" transform="rotate(-30 191.6 406)" fill="#fff"/><circle cx="157.8" cy="424" r="7.8" fill="#fff" stroke="#000" stroke-width="2.4"/><path d="M153,421 L158,419.5 M154.5,428 C157,428.5 160,427 161,425" stroke="#000" stroke-width="1.6" fill="none" /><path d="M151,429 L157,434 L161,432.5 L156,428 Z" fill="#000"/><path d="M166.3,365.3 L168.6,363.3 L172.6,363.3 L181.8,374.5 L199,383.1 L205,389.7 L204.3,395 L176.5,408.9 L174.2,404.3 L173.2,385.8 L169.9,381.8 L166.3,367.9 Z" fill="#fff" stroke="#000" stroke-width="2.8" stroke-linejoin="round"/><path d="M166.3,365.3 L168.6,363.3 L172.6,363.3 L179.5,371.5 L180.5,381.8 L171,382.5 L166.3,367.9 Z" fill="#000"/><ellipse cx="169.9" cy="366" rx="1" ry="1.3" fill="#fff"/><path d="M171.5,372 L176.5,371.2 L176,373.6 L171.8,374 Z M173.4,375.8 L178.5,374.5 L178,379.6 L173.8,380.3 Z M173.6,380.9 L176.5,380.6 L176.5,382 L173.6,382.2 Z" fill="#fff"/><path d="M174.8,384.2 C175.5,390 177.5,395 182,395.8 C186,396.2 189,392 188.6,387 C188.4,385 188,383.8 187.6,383" fill="none" stroke="#000" stroke-width="2.8"/><path d="M184.8,385.5 C186,388 185.5,392 183,393" fill="none" stroke="#000" stroke-width="1.2"/><path d="M191.7,383.5 L196.5,385.6 L195,389.2 L191.5,388 Z M192.4,391.6 L201,389.8 L200.6,394.2 L193.2,395.4 Z" fill="#000"/><path d="M173.5,397 L177.5,397.5 L179,400.5 L185,399.6 L178.5,405.6 L175,405.5 Z" fill="#000"/><path d="M168,382.5 L170.5,383.5 M172.5,384 L175.5,384.5" stroke="#000" stroke-width="1.5"/><g transform="matrix(0.9778,0.0456,-0.1416,0.9247,281.443,136.690)"><path d="M166.3,365.3 L168.6,363.3 L172.6,363.3 L181.8,374.5 L199,383.1 L205,389.7 L204.3,395 L176.5,408.9 L174.2,404.3 L173.2,385.8 L169.9,381.8 L166.3,367.9 Z" fill="#fff" stroke="#000" stroke-width="2.8" stroke-linejoin="round"/><path d="M166.3,365.3 L168.6,363.3 L172.6,363.3 L179.5,371.5 L180.5,381.8 L171,382.5 L166.3,367.9 Z" fill="#000"/><ellipse cx="169.9" cy="366" rx="1" ry="1.3" fill="#fff"/><path d="M171.5,372 L176.5,371.2 L176,373.6 L171.8,374 Z M173.4,375.8 L178.5,374.5 L178,379.6 L173.8,380.3 Z M173.6,380.9 L176.5,380.6 L176.5,382 L173.6,382.2 Z" fill="#fff"/><path d="M174.8,384.2 C175.5,390 177.5,395 182,395.8 C186,396.2 189,392 188.6,387 C188.4,385 188,383.8 187.6,383" fill="none" stroke="#000" stroke-width="2.8"/><path d="M184.8,385.5 C186,388 185.5,392 183,393" fill="none" stroke="#000" stroke-width="1.2"/><path d="M191.7,383.5 L196.5,385.6 L195,389.2 L191.5,388 Z M192.4,391.6 L201,389.8 L200.6,394.2 L193.2,395.4 Z" fill="#000"/><path d="M173.5,397 L177.5,397.5 L179,400.5 L185,399.6 L178.5,405.6 L175,405.5 Z" fill="#000"/><path d="M168,382.5 L170.5,383.5 M172.5,384 L175.5,384.5" stroke="#000" stroke-width="1.5"/></g><path d="M186,402.8 L197,398.8 L201.6,407 L200.8,411.8 L190,415.5 Z" fill="#000"/><ellipse cx="191.5" cy="406.3" rx="4.2" ry="3" transform="rotate(-30 191.5 406.3)" fill="#fff"/><path d="M186.5,358 C185.3,358.5 185,360 185.3,361.5 L187,363.5 L189.2,364.6 L189.2,370.6 L195.7,370.6 L195.8,364.6 L197.5,362.5 L197.8,359.5 L196.5,357.8 Z" fill="#000"/><rect x="189.5" y="359.8" width="1.3" height="1.3" fill="#fff"/><rect x="192.8" y="359.5" width="1.3" height="1.3" fill="#fff"/><path d="M409.5,473.8 C408.3,474.5 408,476.5 408.2,478 L410,480.5 L412.1,482.6 L412.1,489.9 L419.1,489.9 L419.2,482.6 L421,480.5 L421,476 L419.5,473.2 Z" fill="#000"/><rect x="413" y="475" width="1.8" height="1.2" fill="#fff"/><rect x="411.5" y="477.8" width="1.2" height="1.2" fill="#fff"/><rect x="415.2" y="477.5" width="1.2" height="1.2" fill="#fff"/><path d="M404,521.5 C409,517.5 417,516.5 421,519 C423.5,522 422,530 416,534 C411,536.5 405.5,535 404.5,531 Z" fill="#000"/><ellipse cx="413" cy="524.5" rx="4.3" ry="2.8" transform="rotate(-25 413 524.5)" fill="#fff"/><path d="M405,532.5 L479.4,582.2 L495.2,598 L514.6,606" stroke="#000" stroke-width="2.2" fill="none" /><path d="M397,541.2 L474,586.1 L490,602 L514.6,619.5" stroke="#000" stroke-width="2.2" fill="none" /><path d="M490.5,599.5 L494,597.5 L501,601 L499.5,606.5 L492.5,604.5 Z" fill="#fff" stroke="#000" stroke-width="1.8"/><path d="M512.8,607.6 L519.5,604.5 L525,614 L523,622.5 L515.5,620.5 Z" fill="#000"/><ellipse cx="531.4" cy="621.6" rx="9.2" ry="8.8" fill="#fff" stroke="#000" stroke-width="2.6"/><ellipse cx="529.5" cy="622" rx="4.2" ry="4.6" fill="none" stroke="#000" stroke-width="1.6"/><circle cx="529.8" cy="622" r="1.3" fill="#000"/><path d="M534,615 C537,618 537,624 534,627" stroke="#000" stroke-width="1.3" fill="none" /><path d="M385,530 L406,518 L413,524 L392,537 Z" fill="#fff" stroke="#000" stroke-width="2.2" stroke-linejoin="round"/><path d="M396,528 L404,523.5" stroke="#000" stroke-width="1.1" fill="none" /><path d="M373.3,531.2 C372.2,535 371.5,538.5 371.7,540.7 L385.2,551.2 L392.3,551.2 L397.1,546.3 L397.1,538.5 C392,535.5 385,533 373.3,531.2 Z" fill="#fff" stroke="#000" stroke-width="2.4" stroke-linejoin="round"/><path d="M373.3,531.2 L373.3,519.5 C373.5,516.5 376,514.8 379.5,514.8 C383.5,514.8 387.5,516.5 390,521 L395.5,525.5 L391.5,534.5 C386,533 380,532 373.3,531.2 Z" fill="#fff" stroke="#000" stroke-width="2.4" stroke-linejoin="round"/><path d="M376.5,524.2 L378.5,524.2 M387.5,519.5 C386,523 384,526 383.5,528.5" stroke="#000" stroke-width="1.8" fill="none" /><path d="M375,536.5 C376,541 378,545 381,547 M380,538 C381,541 383,542.5 386,542.5 C388,542 388.5,539.5 386.5,539 M391,539 C393,541 393,544 391,546" stroke="#000" stroke-width="1.5" fill="none" /><path d="M363.7,526.8 L370.5,529 L372.5,536.5 L365.5,535.5 Z" fill="#000"/><rect x="366" y="530" width="2" height="2.5" fill="#fff"/><path d="M396,535 L392,542" stroke="#000" stroke-width="1.2" fill="none" />
<path d="M364.8,617.6 L374.1,615.3 L381.5,615.7 L401,628.5 L396,668 L390.7,666.7 L379.6,659.3 L362,647.2 L357.4,640.7 L357.4,631.5 Z" fill="#fff" stroke="#000" stroke-width="2.3" stroke-linejoin="round"/><path d="M357.4,631.5 C353.8,628.5 353.5,621 356.5,618.5 C359,616.8 362.5,616.8 364.8,617.6 L366.5,619.5 C362.5,622 360.5,627 361,631.5 Z" fill="#fff" stroke="#000" stroke-width="2.1"/><path d="M362.5,619.5 C360,622.5 359,627 360,630" stroke="#000" stroke-width="1.3" fill="none" /><path d="M405,627 L413.5,619.5 L428,619 L434,625.5 L446,622 L449,636 L446,648 L441,656 L437,668 L420,671 L406,668 Z" fill="#fff" stroke="#000" stroke-width="2.4" stroke-linejoin="round"/><path d="M434,627 L441,625.5 L444,640 L441,651 L436,652 Z" fill="#000"/><path d="M437.5,631 L439.5,636 M437,642 L440,646" stroke="#fff" stroke-width="1.2" fill="none" /><g transform="rotate(-10 423 611.5)"><path d="M411.5,611.5 C411.5,603.4 417.25,602.5 423,602.5 L429.325,602.5 L434.5,608.35 L434.5,614.65 L429.325,620.5 L423,620.5 C417.25,620.5 411.5,619.6 411.5,611.5 Z" fill="#fff" stroke="#000" stroke-width="3"/><path d="M425.875,604.3 C431.625,607.9 431.625,615.1 425.875,618.7" fill="none" stroke="#000" stroke-width="2.6"/></g><circle cx="418.5" cy="612.5" r="4.2" fill="none" stroke="#000" stroke-width="2.4"/><circle cx="417.9" cy="612.5" r="1.2" fill="#000"/><g transform="rotate(-20 455 628.5)"><path d="M445,628.5 C445,619.5 450.0,618.5 455,618.5 L460.5,618.5 L465,625.0 L465,632.0 L460.5,638.5 L455,638.5 C450.0,638.5 445,637.5 445,628.5 Z" fill="#fff" stroke="#000" stroke-width="3"/><path d="M457.5,620.5 C462.5,624.5 462.5,632.5 457.5,636.5" fill="none" stroke="#000" stroke-width="2.6"/></g><circle cx="450.6" cy="629.3" r="4.2" fill="none" stroke="#000" stroke-width="2.4"/><circle cx="450.0" cy="629.3" r="1.2" fill="#000"/><g transform="rotate(15 448.5 665.5)"><path d="M436.5,665.5 C436.5,656.05 442.5,655.0 448.5,655.0 L455.1,655.0 L460.5,661.825 L460.5,669.175 L455.1,676.0 L448.5,676.0 C442.5,676.0 436.5,674.95 436.5,665.5 Z" fill="#fff" stroke="#000" stroke-width="3"/><path d="M451.5,657.1 C457.5,661.3 457.5,669.7 451.5,673.9" fill="none" stroke="#000" stroke-width="2.6"/></g><circle cx="444" cy="665.5" r="4.2" fill="none" stroke="#000" stroke-width="2.4"/><circle cx="443.4" cy="665.5" r="1.2" fill="#000"/><path d="M402,628 C410,624 421,626 428,633 C434,640 436,652 431,661 C427,668 420,672 412,672 C404,672 398,669 394,666 Z" fill="#fff" stroke="#000" stroke-width="2.4"/><circle cx="415.5" cy="646.5" r="13.6" fill="#fff" stroke="#000" stroke-width="2.1"/><path d="M419,660 L417,664 L420,668 M411,660 L409,668" stroke="#000" stroke-width="1.5" fill="none" /><path d="M386,629.5 L402,627 L405,631 C400,640 399,655 405.8,668.2 L390,667 C384,662 380,656 379.6,650.7 C379,643 381.5,635 386,629.5 Z" fill="#fff" stroke="#000" stroke-width="3.2" stroke-linejoin="round"/><path d="M386.5,633 C384,638 383,645 383.5,650 L386,650 C386,644 387,639 389.5,634 Z" fill="#000"/><path d="M389,641 L400,639 L401,646 L390,648 Z" fill="#000"/><rect x="390.5" y="643" width="2.5" height="2.5" fill="#fff"/><rect x="396" y="642.5" width="2" height="2" fill="#fff"/><path d="M385,653 L392,652 L397,660 L392,664 L386,662 Z" fill="#000"/><path d="M389,655 C391,658 392,661 391,663 M395,655 C398,657 399,661 397,664" stroke="#fff" stroke-width="1.3" fill="none" /><circle cx="411.3" cy="647" r="7.6" fill="#fff" stroke="#000" stroke-width="2.2"/><path d="M410.5,643 C407.5,643 406,645 406.3,647.3 C406.8,649.8 409.5,650.5 411.5,649.3 M409,646 L410.8,646.5" stroke="#000" stroke-width="1.7" fill="none" />
</g>
<rect x="41" y="208.2" width="79.8" height="27.1" fill="#84b4f8"/><text transform="translate(52.31,229.02) scale(0.9442,1)" x="-5.15" font-size="18.50" fill="#0a2d76" stroke="#0a2d76" stroke-width="0.2">8</text><text transform="translate(63.37,229.02) scale(0.9442,1)" x="-5.17" font-size="18.50" fill="#0a2d76" stroke="#0a2d76" stroke-width="0.2">5</text><text transform="translate(74.33,229.02) scale(0.9442,1)" x="-5.10" font-size="18.50" fill="#0a2d76" stroke="#0a2d76" stroke-width="0.2">2</text><text transform="translate(85.77,229.02) scale(0.9442,1)" x="-5.47" font-size="18.50" fill="#0a2d76" stroke="#0a2d76" stroke-width="0.2">1</text><text transform="translate(96.41,229.02) scale(0.9442,1)" x="-5.10" font-size="18.50" fill="#0a2d76" stroke="#0a2d76" stroke-width="0.2">2</text><text transform="translate(109.14,229.02) scale(0.9442,1)" x="-6.67" font-size="18.50" fill="#0a2d76" stroke="#0a2d76" stroke-width="0.2">A</text>
<text transform="translate(78.12,96.51) scale(0.9454,1)" x="-5.39" font-size="19.35" fill="#000" stroke="#000" stroke-width="0.2">8</text><text transform="translate(89.70,96.51) scale(0.9454,1)" x="-5.41" font-size="19.35" fill="#000" stroke="#000" stroke-width="0.2">5</text><text transform="translate(101.59,96.51) scale(0.9454,1)" x="-5.72" font-size="19.35" fill="#000" stroke="#000" stroke-width="0.2">1</text><text transform="translate(112.76,96.51) scale(0.9454,1)" x="-5.36" font-size="19.35" fill="#000" stroke="#000" stroke-width="0.2">9</text><text transform="translate(124.30,96.51) scale(0.9454,1)" x="-5.33" font-size="19.35" fill="#000" stroke="#000" stroke-width="0.2">2</text>
<text transform="translate(93.26,131.14) scale(0.9477,1)" x="-4.42" font-size="15.96" fill="#000" stroke="#000" stroke-width="0.2">9</text><text transform="translate(102.83,131.14) scale(0.9477,1)" x="-4.43" font-size="15.96" fill="#000" stroke="#000" stroke-width="0.2">0</text><text transform="translate(112.70,131.14) scale(0.9477,1)" x="-4.72" font-size="15.96" fill="#000" stroke="#000" stroke-width="0.2">1</text><text transform="translate(121.95,131.14) scale(0.9477,1)" x="-4.43" font-size="15.96" fill="#000" stroke="#000" stroke-width="0.2">7</text><text transform="translate(131.50,131.14) scale(0.9477,1)" x="-4.42" font-size="15.96" fill="#000" stroke="#000" stroke-width="0.2">9</text><rect x="136.16" y="124.45" width="10.35" height="2.2" fill="#000"/><text transform="translate(151.10,131.14) scale(0.9477,1)" x="-4.43" font-size="15.96" fill="#000" stroke="#000" stroke-width="0.2">0</text><text transform="translate(160.69,131.14) scale(0.9477,1)" x="-4.45" font-size="15.96" fill="#000" stroke="#000" stroke-width="0.2">8</text><text transform="translate(170.54,131.14) scale(0.9477,1)" x="-4.72" font-size="15.96" fill="#000" stroke="#000" stroke-width="0.2">1</text><text transform="translate(180.10,131.14) scale(0.9477,1)" x="-4.72" font-size="15.96" fill="#000" stroke="#000" stroke-width="0.2">1</text><text transform="translate(189.24,131.14) scale(0.9477,1)" x="-4.33" font-size="15.96" fill="#000" stroke="#000" stroke-width="0.2">3</text>
<text transform="translate(347.51,165.33) scale(0.9881,1)" x="-4.92" font-size="17.66" fill="#000" stroke="#000" stroke-width="0.2">8</text><text transform="translate(358.55,165.33) scale(0.9881,1)" x="-4.94" font-size="17.66" fill="#000" stroke="#000" stroke-width="0.2">5</text><text transform="translate(369.49,165.33) scale(0.9881,1)" x="-4.86" font-size="17.66" fill="#000" stroke="#000" stroke-width="0.2">2</text><text transform="translate(380.92,165.33) scale(0.9881,1)" x="-5.22" font-size="17.66" fill="#000" stroke="#000" stroke-width="0.2">1</text><text transform="translate(391.95,165.33) scale(0.9881,1)" x="-5.22" font-size="17.66" fill="#000" stroke="#000" stroke-width="0.2">1</text><text transform="translate(404.48,165.33) scale(0.9881,1)" x="-6.56" font-size="17.66" fill="#000" stroke="#000" stroke-width="0.2">B</text>
<text transform="translate(138.58,221.13) scale(1.0057,1)" x="-4.92" font-size="17.66" fill="#000" stroke="#000" stroke-width="0.2">8</text><text transform="translate(149.82,221.13) scale(1.0057,1)" x="-4.94" font-size="17.66" fill="#000" stroke="#000" stroke-width="0.2">5</text><text transform="translate(160.96,221.13) scale(1.0057,1)" x="-4.86" font-size="17.66" fill="#000" stroke="#000" stroke-width="0.2">2</text><text transform="translate(172.19,221.13) scale(1.0057,1)" x="-4.86" font-size="17.66" fill="#000" stroke="#000" stroke-width="0.2">2</text><text transform="translate(183.56,221.13) scale(1.0057,1)" x="-5.00" font-size="17.66" fill="#000" stroke="#000" stroke-width="0.2">4</text><text transform="translate(196.34,221.13) scale(1.0057,1)" x="-6.36" font-size="17.66" fill="#000" stroke="#000" stroke-width="0.2">A</text>
<text transform="translate(139.71,238.63) scale(0.9880,1)" x="-4.92" font-size="17.66" fill="#000" stroke="#000" stroke-width="0.2">8</text><text transform="translate(150.75,238.63) scale(0.9880,1)" x="-4.94" font-size="17.66" fill="#000" stroke="#000" stroke-width="0.2">5</text><text transform="translate(161.69,238.63) scale(0.9880,1)" x="-4.86" font-size="17.66" fill="#000" stroke="#000" stroke-width="0.2">2</text><text transform="translate(173.12,238.63) scale(0.9880,1)" x="-5.22" font-size="17.66" fill="#000" stroke="#000" stroke-width="0.2">1</text><text transform="translate(183.89,238.63) scale(0.9880,1)" x="-5.00" font-size="17.66" fill="#000" stroke="#000" stroke-width="0.2">4</text><text transform="translate(196.45,238.63) scale(0.9880,1)" x="-6.36" font-size="17.66" fill="#000" stroke="#000" stroke-width="0.2">A</text>
<text transform="translate(136.69,257.52) scale(0.9400,1)" x="-5.15" font-size="18.50" fill="#000" stroke="#000" stroke-width="0.2">8</text><text transform="translate(147.70,257.52) scale(0.9400,1)" x="-5.17" font-size="18.50" fill="#000" stroke="#000" stroke-width="0.2">5</text><text transform="translate(158.61,257.52) scale(0.9400,1)" x="-5.10" font-size="18.50" fill="#000" stroke="#000" stroke-width="0.2">2</text><text transform="translate(169.61,257.52) scale(0.9400,1)" x="-5.10" font-size="18.50" fill="#000" stroke="#000" stroke-width="0.2">2</text><text transform="translate(180.75,257.52) scale(0.9400,1)" x="-5.24" font-size="18.50" fill="#000" stroke="#000" stroke-width="0.2">4</text><text transform="translate(193.50,257.52) scale(0.9400,1)" x="-6.88" font-size="18.50" fill="#000" stroke="#000" stroke-width="0.2">B</text>
<text transform="translate(134.53,320.24) scale(0.9391,1)" x="-4.42" font-size="15.96" fill="#000" stroke="#000" stroke-width="0.2">9</text><text transform="translate(144.01,320.24) scale(0.9391,1)" x="-4.43" font-size="15.96" fill="#000" stroke="#000" stroke-width="0.2">0</text><text transform="translate(153.80,320.24) scale(0.9391,1)" x="-4.72" font-size="15.96" fill="#000" stroke="#000" stroke-width="0.2">1</text><text transform="translate(163.27,320.24) scale(0.9391,1)" x="-4.72" font-size="15.96" fill="#000" stroke="#000" stroke-width="0.2">1</text><text transform="translate(172.42,320.24) scale(0.9391,1)" x="-4.42" font-size="15.96" fill="#000" stroke="#000" stroke-width="0.2">9</text><rect x="177.05" y="313.55" width="10.23" height="2.2" fill="#000"/><text transform="translate(191.85,320.24) scale(0.9391,1)" x="-4.43" font-size="15.96" fill="#000" stroke="#000" stroke-width="0.2">0</text><text transform="translate(201.34,320.24) scale(0.9391,1)" x="-4.44" font-size="15.96" fill="#000" stroke="#000" stroke-width="0.2">6</text><text transform="translate(211.11,320.24) scale(0.9391,1)" x="-4.72" font-size="15.96" fill="#000" stroke="#000" stroke-width="0.2">1</text><text transform="translate(220.29,320.24) scale(0.9391,1)" x="-4.45" font-size="15.96" fill="#000" stroke="#000" stroke-width="0.2">8</text><text transform="translate(229.74,320.24) scale(0.9391,1)" x="-4.43" font-size="15.96" fill="#000" stroke="#000" stroke-width="0.2">7</text><text transform="translate(242.47,320.24) scale(0.9391,1)" x="-3.05" font-size="15.96" fill="#000" stroke="#000" stroke-width="0.2">(</text><text transform="translate(249.52,320.24) scale(0.9391,1)" x="-4.33" font-size="15.96" fill="#000" stroke="#000" stroke-width="0.2">3</text><text transform="translate(256.78,320.24) scale(0.9391,1)" x="-2.27" font-size="15.96" fill="#000" stroke="#000" stroke-width="0.2">)</text>
<text transform="translate(356.79,308.02) scale(0.9833,1)" x="-5.15" font-size="18.50" fill="#000" stroke="#000" stroke-width="0.2">8</text><text transform="translate(368.31,308.02) scale(0.9833,1)" x="-5.17" font-size="18.50" fill="#000" stroke="#000" stroke-width="0.2">5</text><text transform="translate(380.14,308.02) scale(0.9833,1)" x="-5.47" font-size="18.50" fill="#000" stroke="#000" stroke-width="0.2">1</text><text transform="translate(391.25,308.02) scale(0.9833,1)" x="-5.12" font-size="18.50" fill="#000" stroke="#000" stroke-width="0.2">9</text><text transform="translate(402.72,308.02) scale(0.9833,1)" x="-5.10" font-size="18.50" fill="#000" stroke="#000" stroke-width="0.2">2</text>
<text transform="translate(370.40,344.43) scale(0.8642,1)" x="-4.89" font-size="17.66" fill="#000" stroke="#000" stroke-width="0.2">9</text><text transform="translate(380.05,344.43) scale(0.8642,1)" x="-4.90" font-size="17.66" fill="#000" stroke="#000" stroke-width="0.2">0</text><text transform="translate(390.01,344.43) scale(0.8642,1)" x="-5.22" font-size="17.66" fill="#000" stroke="#000" stroke-width="0.2">1</text><text transform="translate(399.33,344.43) scale(0.8642,1)" x="-4.90" font-size="17.66" fill="#000" stroke="#000" stroke-width="0.2">7</text><text transform="translate(408.96,344.43) scale(0.8642,1)" x="-4.89" font-size="17.66" fill="#000" stroke="#000" stroke-width="0.2">9</text><rect x="413.66" y="337.15" width="10.45" height="2.2" fill="#000"/><text transform="translate(428.74,344.43) scale(0.8642,1)" x="-4.90" font-size="17.66" fill="#000" stroke="#000" stroke-width="0.2">0</text><text transform="translate(438.40,344.43) scale(0.8642,1)" x="-4.92" font-size="17.66" fill="#000" stroke="#000" stroke-width="0.2">8</text><text transform="translate(448.34,344.43) scale(0.8642,1)" x="-5.22" font-size="17.66" fill="#000" stroke="#000" stroke-width="0.2">1</text><text transform="translate(457.98,344.43) scale(0.8642,1)" x="-5.22" font-size="17.66" fill="#000" stroke="#000" stroke-width="0.2">1</text><text transform="translate(467.21,344.43) scale(0.8642,1)" x="-4.79" font-size="17.66" fill="#000" stroke="#000" stroke-width="0.2">3</text>
<text transform="translate(627.30,376.91) scale(0.9203,1)" x="-5.27" font-size="18.93" fill="#000" stroke="#000" stroke-width="0.2">8</text><text transform="translate(638.33,376.91) scale(0.9203,1)" x="-5.29" font-size="18.93" fill="#000" stroke="#000" stroke-width="0.2">5</text><text transform="translate(649.25,376.91) scale(0.9203,1)" x="-5.21" font-size="18.93" fill="#000" stroke="#000" stroke-width="0.2">2</text><text transform="translate(660.26,376.91) scale(0.9203,1)" x="-5.21" font-size="18.93" fill="#000" stroke="#000" stroke-width="0.2">2</text><text transform="translate(671.67,376.91) scale(0.9203,1)" x="-5.60" font-size="18.93" fill="#000" stroke="#000" stroke-width="0.2">1</text><text transform="translate(684.19,376.91) scale(0.9203,1)" x="-7.04" font-size="18.93" fill="#000" stroke="#000" stroke-width="0.2">B</text>
<text transform="translate(332.34,441.92) scale(0.9358,1)" x="-5.11" font-size="18.36" fill="#000" stroke="#000" stroke-width="0.2">8</text><text transform="translate(343.22,441.92) scale(0.9358,1)" x="-5.13" font-size="18.36" fill="#000" stroke="#000" stroke-width="0.2">5</text><text transform="translate(354.00,441.92) scale(0.9358,1)" x="-5.06" font-size="18.36" fill="#000" stroke="#000" stroke-width="0.2">2</text><text transform="translate(364.86,441.92) scale(0.9358,1)" x="-5.06" font-size="18.36" fill="#000" stroke="#000" stroke-width="0.2">2</text><text transform="translate(375.72,441.92) scale(0.9358,1)" x="-5.06" font-size="18.36" fill="#000" stroke="#000" stroke-width="0.2">2</text><text transform="translate(388.24,441.92) scale(0.9358,1)" x="-6.62" font-size="18.36" fill="#000" stroke="#000" stroke-width="0.2">A</text>
<text transform="translate(415.63,433.32) scale(0.9549,1)" x="-5.23" font-size="18.79" fill="#000" stroke="#000" stroke-width="0.2">8</text><text transform="translate(426.98,433.32) scale(0.9549,1)" x="-5.25" font-size="18.79" fill="#000" stroke="#000" stroke-width="0.2">5</text><text transform="translate(438.24,433.32) scale(0.9549,1)" x="-5.17" font-size="18.79" fill="#000" stroke="#000" stroke-width="0.2">2</text><text transform="translate(449.57,433.32) scale(0.9549,1)" x="-5.17" font-size="18.79" fill="#000" stroke="#000" stroke-width="0.2">2</text><text transform="translate(461.07,433.32) scale(0.9549,1)" x="-5.32" font-size="18.79" fill="#000" stroke="#000" stroke-width="0.2">4</text><text transform="translate(474.14,433.32) scale(0.9549,1)" x="-6.91" font-size="18.79" fill="#000" stroke="#000" stroke-width="0.2">C</text>
<text transform="translate(416.40,452.01) scale(0.9273,1)" x="-5.35" font-size="19.21" fill="#000" stroke="#000" stroke-width="0.2">8</text><text transform="translate(427.67,452.01) scale(0.9273,1)" x="-5.37" font-size="19.21" fill="#000" stroke="#000" stroke-width="0.2">5</text><text transform="translate(438.85,452.01) scale(0.9273,1)" x="-5.29" font-size="19.21" fill="#000" stroke="#000" stroke-width="0.2">2</text><text transform="translate(450.51,452.01) scale(0.9273,1)" x="-5.68" font-size="19.21" fill="#000" stroke="#000" stroke-width="0.2">1</text><text transform="translate(461.51,452.01) scale(0.9273,1)" x="-5.44" font-size="19.21" fill="#000" stroke="#000" stroke-width="0.2">4</text><text transform="translate(474.57,452.01) scale(0.9273,1)" x="-7.14" font-size="19.21" fill="#000" stroke="#000" stroke-width="0.2">B</text>
<text transform="translate(416.39,468.82) scale(0.9617,1)" x="-5.15" font-size="18.50" fill="#000" stroke="#000" stroke-width="0.2">8</text><text transform="translate(427.66,468.82) scale(0.9617,1)" x="-5.17" font-size="18.50" fill="#000" stroke="#000" stroke-width="0.2">5</text><text transform="translate(438.82,468.82) scale(0.9617,1)" x="-5.10" font-size="18.50" fill="#000" stroke="#000" stroke-width="0.2">2</text><text transform="translate(450.07,468.82) scale(0.9617,1)" x="-5.10" font-size="18.50" fill="#000" stroke="#000" stroke-width="0.2">2</text><text transform="translate(461.47,468.82) scale(0.9617,1)" x="-5.24" font-size="18.50" fill="#000" stroke="#000" stroke-width="0.2">4</text><text transform="translate(474.54,468.82) scale(0.9617,1)" x="-6.91" font-size="18.50" fill="#000" stroke="#000" stroke-width="0.2">D</text>
<text transform="translate(456.24,492.61) scale(0.7770,1)" x="-5.36" font-size="19.35" fill="#000" stroke="#000" stroke-width="0.2">9</text><text transform="translate(465.75,492.61) scale(0.7770,1)" x="-5.37" font-size="19.35" fill="#000" stroke="#000" stroke-width="0.2">0</text><text transform="translate(475.57,492.61) scale(0.7770,1)" x="-5.72" font-size="19.35" fill="#000" stroke="#000" stroke-width="0.2">1</text><text transform="translate(485.07,492.61) scale(0.7770,1)" x="-5.72" font-size="19.35" fill="#000" stroke="#000" stroke-width="0.2">1</text><text transform="translate(494.25,492.61) scale(0.7770,1)" x="-5.36" font-size="19.35" fill="#000" stroke="#000" stroke-width="0.2">9</text><rect x="498.89" y="484.75" width="10.27" height="2.2" fill="#000"/><text transform="translate(513.74,492.61) scale(0.7770,1)" x="-5.37" font-size="19.35" fill="#000" stroke="#000" stroke-width="0.2">0</text><text transform="translate(523.26,492.61) scale(0.7770,1)" x="-5.39" font-size="19.35" fill="#000" stroke="#000" stroke-width="0.2">6</text><text transform="translate(533.06,492.61) scale(0.7770,1)" x="-5.72" font-size="19.35" fill="#000" stroke="#000" stroke-width="0.2">1</text><text transform="translate(542.27,492.61) scale(0.7770,1)" x="-5.39" font-size="19.35" fill="#000" stroke="#000" stroke-width="0.2">8</text><text transform="translate(551.75,492.61) scale(0.7770,1)" x="-5.37" font-size="19.35" fill="#000" stroke="#000" stroke-width="0.2">7</text><text transform="translate(564.52,492.61) scale(0.7770,1)" x="-3.69" font-size="19.35" fill="#000" stroke="#000" stroke-width="0.2">(</text><text transform="translate(571.59,492.61) scale(0.7770,1)" x="-5.25" font-size="19.35" fill="#000" stroke="#000" stroke-width="0.2">3</text><text transform="translate(578.88,492.61) scale(0.7770,1)" x="-2.75" font-size="19.35" fill="#000" stroke="#000" stroke-width="0.2">)</text>
<text transform="translate(161.12,480.82) scale(0.9979,1)" x="-5.00" font-size="17.94" fill="#000" stroke="#000" stroke-width="0.2">8</text><text transform="translate(172.45,480.82) scale(0.9979,1)" x="-5.01" font-size="17.94" fill="#000" stroke="#000" stroke-width="0.2">5</text><text transform="translate(184.09,480.82) scale(0.9979,1)" x="-5.30" font-size="17.94" fill="#000" stroke="#000" stroke-width="0.2">1</text><text transform="translate(195.05,480.82) scale(0.9979,1)" x="-4.99" font-size="17.94" fill="#000" stroke="#000" stroke-width="0.2">6</text><text transform="translate(206.34,480.82) scale(0.9979,1)" x="-4.97" font-size="17.94" fill="#000" stroke="#000" stroke-width="0.2">0</text>
<text transform="translate(273.18,647.82) scale(0.9818,1)" x="-5.15" font-size="18.50" fill="#000" stroke="#000" stroke-width="0.2">8</text><text transform="translate(284.68,647.82) scale(0.9818,1)" x="-5.17" font-size="18.50" fill="#000" stroke="#000" stroke-width="0.2">5</text><text transform="translate(296.50,647.82) scale(0.9818,1)" x="-5.47" font-size="18.50" fill="#000" stroke="#000" stroke-width="0.2">1</text><text transform="translate(307.98,647.82) scale(0.9818,1)" x="-5.47" font-size="18.50" fill="#000" stroke="#000" stroke-width="0.2">1</text><text transform="translate(319.08,647.82) scale(0.9818,1)" x="-5.13" font-size="18.50" fill="#000" stroke="#000" stroke-width="0.2">0</text>
<text transform="translate(684.21,1099.92) scale(0.9954,1)" x="-5.11" font-size="18.36" fill="#000" stroke="#000" stroke-width="0.2">8</text><text transform="translate(695.78,1099.92) scale(0.9954,1)" x="-5.13" font-size="18.36" fill="#000" stroke="#000" stroke-width="0.2">5</text><text transform="translate(707.29,1099.92) scale(0.9954,1)" x="-5.09" font-size="18.36" fill="#000" stroke="#000" stroke-width="0.2">0</text><text transform="translate(718.84,1099.92) scale(0.9954,1)" x="-5.09" font-size="18.36" fill="#000" stroke="#000" stroke-width="0.2">0</text><text transform="translate(730.39,1099.92) scale(0.9954,1)" x="-5.09" font-size="18.36" fill="#000" stroke="#000" stroke-width="0.2">0</text><text transform="translate(741.90,1099.92) scale(0.9954,1)" x="-5.06" font-size="18.36" fill="#000" stroke="#000" stroke-width="0.2">2</text>
</svg>
</body></html>
